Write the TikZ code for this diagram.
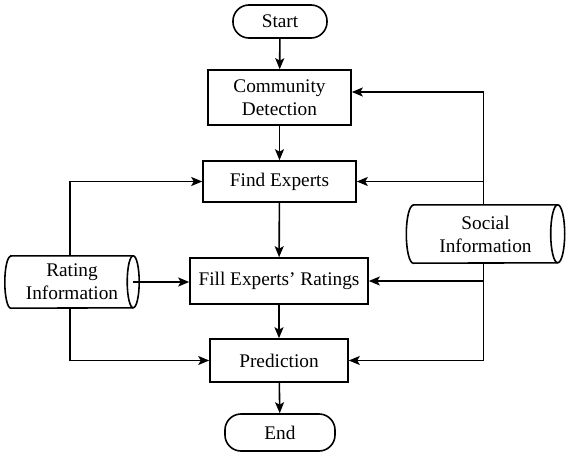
\documentclass[tikz,border=0pt]{standalone}
\usepackage{fontspec}
\setmainfont{Liberation Serif}
\usetikzlibrary{arrows.meta}
\begin{document}
\begin{tikzpicture}[x=1pt,y=-1pt,
  every node/.style={font=\fontsize{19.3}{23}\selectfont, align=center, inner sep=0pt},
  box/.style={draw, line width=1.6pt, minimum width=#1},
  term/.style={draw, line width=1.6pt, rounded corners=16pt, minimum width=#1},
  line/.style={line width=1.6pt},
  arr/.style={line width=1.6pt, -{Stealth[length=11pt,width=9pt,inset=2.5pt]}}
]
\useasboundingbox (0,0) rectangle (566,455);
% process nodes
\node[term=94, minimum height=33] (start) at (280,21.5) {Start};
\node[box=143, minimum height=55] (comm) at (279.5,97.5) {Community\\Detection};
\node[box=153, minimum height=41] (find) at (279.5,181.5) {Find Experts};
\node[box=178, minimum height=46] (fill) at (279,281) {Fill Experts' Ratings};
\node[box=138, minimum height=43] (pred) at (279,360.5) {Prediction};
\node[term=110, minimum height=37] (end) at (280,432.5) {End};
% data nodes (cylinders)
\node[minimum width=134, minimum height=52] (rating) at (72,282) {Rating\\Information};
\node[minimum width=158, minimum height=58] (social) at (485.5,234) {Social\\Information};
\draw[line] ([xshift=6pt]rating.north west) -- ([xshift=-6pt]rating.north east)
  arc[start angle=90, end angle=-90, x radius=6pt, y radius=26pt]
  -- ([xshift=6pt]rating.south west)
  arc[start angle=270, end angle=90, x radius=6pt, y radius=26pt] -- cycle;
\draw[line] ([xshift=-6pt]rating.north east) arc[start angle=90, end angle=270, x radius=6pt, y radius=26pt];
\draw[line] ([xshift=7pt]social.north west) -- ([xshift=-7pt]social.north east)
  arc[start angle=90, end angle=-90, x radius=7pt, y radius=29pt]
  -- ([xshift=7pt]social.south west)
  arc[start angle=270, end angle=90, x radius=7pt, y radius=29pt] -- cycle;
\draw[line] ([xshift=-7pt]social.north east) arc[start angle=90, end angle=270, x radius=7pt, y radius=29pt];
\coordinate (ratingE) at ([xshift=-6pt]rating.east);
\coordinate (ratingN) at ([xshift=-2pt]rating.north);
\coordinate (ratingS) at ([xshift=-2pt]rating.south);
\coordinate (socialN) at ([xshift=-2pt]social.north);
\coordinate (socialS) at ([xshift=-2pt]social.south);
% main flow
\draw[arr] (start) -- (comm);
\draw[arr] (comm) -- (find);
\draw[arr] (find) -- (fill);
\draw[arr] (fill) -- (pred);
\draw[arr] (pred) -- (end);
% left connectors
\draw[arr] (ratingN) |- (find.west);
\draw[arr] (ratingS) |- (pred.west);
\draw[arr] (ratingE) -- (ratingE -| fill.west);
% right connectors
\draw[arr] (socialN) |- ([yshift=5.5pt]comm.east);
\draw[arr] (socialN |- find.east) -- (find.east);
\draw[arr] (socialS) |- (pred.east);
\draw[arr] (socialS |- fill.east) -- (fill.east);
\end{tikzpicture}
\end{document}
